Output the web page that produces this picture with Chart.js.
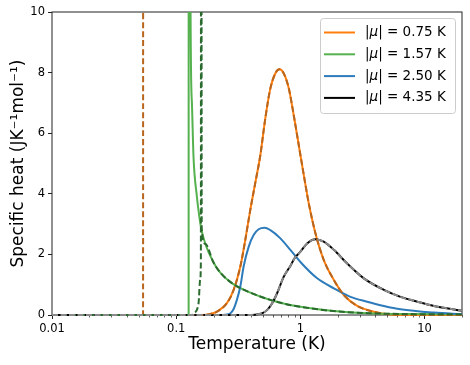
<!DOCTYPE html>
<html lang="en">
<head>
    <meta charset="UTF-8">
    <title>Specific heat</title>
    <script src="https://cdn.jsdelivr.net/npm/chart.js"></script>
    <style>
        body { margin: 0; background: #fff; }
        #wrap { width: 470px; height: 365px; }
    </style>
</head>
<body>
    <div id="wrap"><canvas id="grafica" width="470" height="365"></canvas></div>
    <script>
        // temperatures (K) and specific heat values
        const legendLabels = ['|μ| = 0.75 K', '|μ| = 1.57 K', '|μ| = 2.50 K', '|μ| = 4.35 K'];
        const xMajor = [0.01, 0.1, 1, 10];
        const yTicks = [0, 2, 4, 6, 8, 10];

        const T_075 = [0.01, 0.15, 0.175, 0.195, 0.213, 0.256, 0.29, 0.328, 0.36, 0.395, 0.435, 0.476, 0.522, 0.573, 0.629, 0.677, 0.733, 0.805, 0.883, 1.0, 1.08, 1.167, 1.321, 1.541, 1.856, 2.235, 2.866, 3.9, 5.32, 8, 20];
        const C_075 = [0, 0, 0.01, 0.05, 0.11, 0.39, 0.83, 1.59, 2.48, 3.47, 4.4, 5.28, 6.5, 7.48, 7.98, 8.11, 7.98, 7.49, 6.6, 5.28, 4.47, 3.69, 2.7, 1.82, 1.16, 0.66, 0.3, 0.11, 0.02, 0, 0];
        const T_075_spike = [0.01, 0.0541, 0.0542, 0.05425, 0.0544];
        const C_075_spike = [0, 0, 30, null, 0];

        const T_157 = [0.01, 0.1259, 0.1261, 0.1262, 0.1285, 0.1304, 0.1338, 0.1379, 0.1468, 0.1512];
        const C_157 = [0, 0, 30, null, 30, 10.3, 7.0, 5.2, 3.9, 3.45];
        const T_157_dash = [0.01, 0.132, 0.1379, 0.1512, 0.156, 0.158, 0.1585, 0.159, 0.1595, 0.1605];
        const C_157_dash = [0, 0, 0.05, 0.38, 1.16, 1.8, 30, null, 30, 2.85];
        const T_157_tail = [0.1582, 0.1714, 0.1988, 0.2263, 0.2883, 0.3953, 0.542, 0.73, 1.0, 1.846, 3.47, 7.71, 20];
        const C_157_tail = [2.9, 2.35, 1.75, 1.4, 1.02, 0.74, 0.53, 0.38, 0.27, 0.13, 0.06, 0.03, 0.02];

        const T_250 = [0.01, 0.22, 0.25, 0.272, 0.29, 0.308, 0.328, 0.349, 0.383, 0.42, 0.461, 0.515, 0.573, 0.69, 0.83, 1.0, 1.365, 1.86, 2.53, 3.45, 4.7, 6.4, 11.9, 20];
        const C_250 = [0, 0, 0.01, 0.05, 0.2, 0.5, 0.93, 1.6, 2.25, 2.64, 2.83, 2.88, 2.8, 2.53, 2.15, 1.75, 1.21, 0.88, 0.6, 0.44, 0.3, 0.19, 0.08, 0.03];

        const T_435 = [0.01, 0.38, 0.448, 0.5, 0.538, 0.591, 0.648, 0.733, 0.83, 0.9, 1.0, 1.132, 1.32, 1.54, 1.86, 2.38, 3.24, 4.7, 6.4, 8.73, 11.9, 20];
        const C_435 = [0, 0, 0.02, 0.07, 0.16, 0.38, 0.71, 1.26, 1.62, 1.88, 2.09, 2.36, 2.5, 2.42, 2.15, 1.7, 1.21, 0.83, 0.6, 0.44, 0.3, 0.14];

        const pts = (T, C) => T.map((t, i) => ({x: t, y: C[i]}));
        const after = (T, C, t0) => pts(T, C).filter(p => p.x > t0);

        const colores = ['#ff7f0e', '#55b24f', '#2d7bba', '#000000'];
        const isMajor = v => Math.abs(Math.log10(v) - Math.round(Math.log10(v))) < 1e-6;
        const FONT = 'DejaVu Sans';

        const linea = (data, color, order, dash) => ({
            data, borderColor: color, backgroundColor: color, borderWidth: 2, pointRadius: 0,
            borderDash: dash || [], cubicInterpolationMode: 'monotone', spanGaps: false, order,
            clip: {left: 1, top: 0, right: 1, bottom: 2}
        });

        const datasets = [
            linea(pts(T_075, C_075), colores[0], 8),
            linea(pts(T_157, C_157).concat(after(T_157_tail, C_157_tail, 0.1512)), colores[1], 7),
            linea(pts(T_250, C_250), colores[2], 6),
            linea(pts(T_435, C_435), colores[3], 5),
            linea(pts(T_075_spike, C_075_spike).concat(after(T_075, C_075, 0.0544)), '#b8651e', 4, [6, 3]),
            linea(pts(T_157_dash, C_157_dash).concat(after(T_157_tail, C_157_tail, 0.1605)), '#2b6b2f', 3, [6, 3]),
            linea(pts(T_435, C_435), '#8a8a8a', 2, [6, 2.5])
        ];

        const marco = {
            id: 'marco',
            beforeDatasetsDraw(chart) {
                const {ctx, chartArea: a, scales: {x}} = chart;
                ctx.save();
                ctx.strokeStyle = '#222';
                ctx.lineWidth = 1;
                ctx.strokeRect(a.left, a.top, a.right - a.left, a.bottom - a.top);
                // minor ticks on the log axis
                ctx.lineWidth = 0.7;
                for (let d = -2; d <= 1; d++) for (let m = 2; m <= 9; m++) {
                    const v = m * Math.pow(10, d);
                    if (v > 20) continue;
                    const px = Math.round(x.getPixelForValue(v)) + 0.5;
                    ctx.beginPath(); ctx.moveTo(px, a.bottom); ctx.lineTo(px, a.bottom + 2.5); ctx.stroke();
                }
                ctx.restore();
            },
            afterDatasetsDraw(chart) {
                const {ctx, chartArea: a} = chart;
                const w = 135, h = 95, l = a.right - 7 - w, t = a.top + 6;
                ctx.save();
                ctx.fillStyle = 'rgba(255,255,255,0.85)';
                ctx.strokeStyle = '#cccccc';
                ctx.lineWidth = 1;
                ctx.beginPath(); ctx.roundRect(l + 0.5, t + 0.5, w, h, 3); ctx.fill(); ctx.stroke();
                ctx.textBaseline = 'middle';
                const recto = '13.5px "' + FONT + '"', cursiva = 'italic 13.5px "' + FONT + '"';
                legendLabels.forEach((txt, i) => {
                    const y = t + 14.5 + i * 21.8;
                    ctx.strokeStyle = colores[i]; ctx.lineWidth = 2;
                    ctx.beginPath(); ctx.moveTo(l + 4, y); ctx.lineTo(l + 35, y); ctx.stroke();
                    ctx.fillStyle = '#000';
                    // the mu is set in italics, as in the math text of the original
                    let px = l + 45;
                    txt.split(/(μ)/).forEach(parte => {
                        ctx.font = parte === 'μ' ? cursiva : recto;
                        ctx.fillText(parte, px, y);
                        px += ctx.measureText(parte).width;
                    });
                });
                ctx.restore();
            }
        };

        new Chart(document.getElementById('grafica').getContext('2d'), {
            type: 'line',
            data: { datasets },
            options: {
                responsive: false, animation: false, devicePixelRatio: 1,
                layout: { padding: { top: 12, right: 8, left: 0, bottom: 0 } },
                plugins: { legend: { display: false }, tooltip: { enabled: false } },
                scales: {
                    x: {
                        type: 'logarithmic', min: 0.01, max: 20,
                        afterFit: s => { s.height = 50; },
                        border: { display: false },
                        grid: { drawOnChartArea: false, tickLength: 4, color: c => isMajor(c.tick.value) ? '#222' : 'rgba(0,0,0,0)' },
                        ticks: {
                            autoSkip: false, maxRotation: 0, padding: 3, color: '#000', font: { family: FONT, size: 11.5 },
                            callback: v => xMajor.some(m => Math.abs(m - v) < 1e-9) ? String(v) : ''
                        },
                        title: { display: true, text: 'Temperature (K)', color: '#000', font: { family: FONT, size: 17 }, padding: { top: 0, bottom: 10 } }
                    },
                    y: {
                        min: 0, max: 10,
                        afterFit: s => { s.width = 52; },
                        afterBuildTicks: s => { s.ticks = yTicks.map(v => ({value: v})); },
                        border: { display: false },
                        grid: { drawOnChartArea: false, tickLength: 4, color: '#222' },
                        ticks: { padding: 3, color: '#000', font: { family: FONT, size: 11.5 } },
                        title: { display: true, text: 'Specific heat (JK⁻¹mol⁻¹)', color: '#000', font: { family: FONT, size: 17 }, padding: { top: 8, bottom: 0 } }
                    }
                }
            },
            plugins: [marco]
        });
    </script>
</body>
</html>
